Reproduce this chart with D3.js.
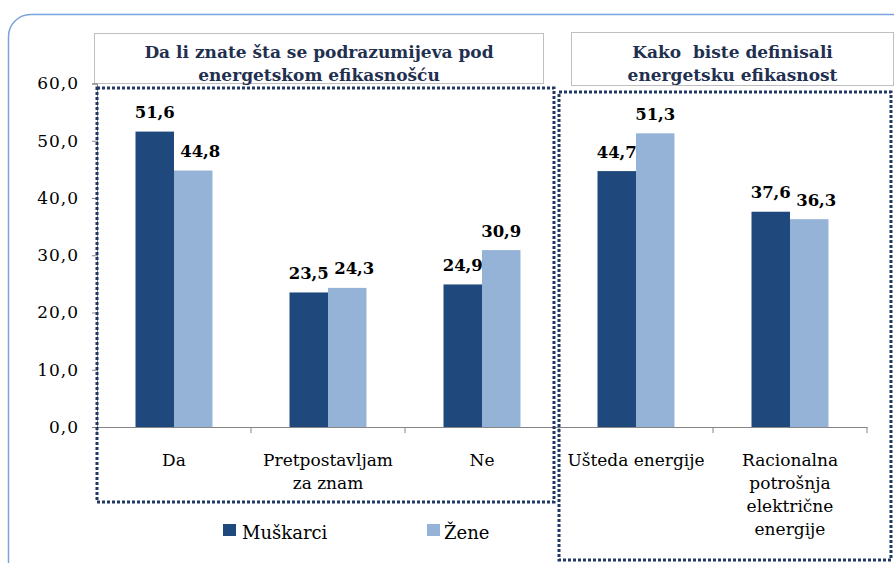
<!DOCTYPE html>
<html><head><meta charset="utf-8">
<script src="https://cdn.jsdelivr.net/npm/d3@7"></script>
<style>body{margin:0;background:#fff;}svg{display:block;}</style>
</head><body>
<svg id="chart" width="894" height="563"></svg>
<script>
const categories = ["Da", "Pretpostavljam\nza znam", "Ne", "Ušteda energije", "Racionalna\npotrošnja\nelektrične\nenergije"];
const series = ["Muškarci", "Žene"];
const muskarci = [51.6, 23.5, 24.9, 44.7, 37.6];
const zene = [44.8, 24.3, 30.9, 51.3, 36.3];
const yTicks = [0, 10, 20, 30, 40, 50, 60];
const titles = [["Da li znate šta se podrazumijeva pod", "energetskom efikasnošću"], ["Kako\u00a0 biste definisali", "energetsku efikasnost"]];

const colors = ["#1f497d", "#95b3d7"];
const svg = d3.select("#chart");
const serif = "'DejaVu Serif', serif";

// outer rounded frame
svg.append("rect").attr("x", 8.5).attr("y", 14.5).attr("width", 920).attr("height", 600)
  .attr("rx", 22).attr("fill", "none").attr("stroke", "#7aa3dc").attr("stroke-width", 1.5);

const x0 = 97, x1 = 867, yTop = 83.5, yBot = 427;
const x = d3.scaleBand().domain(categories).range([x0, x1]).paddingInner(0).paddingOuter(0);
const xs = d3.scaleBand().domain(series).range([0, x.bandwidth()]).paddingOuter(1).paddingInner(0);
const y = d3.scaleLinear().domain([0, 60]).range([yBot, yTop]);

// title boxes
const boxes = [{x: 94.5, y: 33.5, w: 449, h: 50}, {x: 571.5, y: 32.5, w: 322, h: 53}];
boxes.forEach((b, i) => {
  svg.append("rect").attr("x", b.x).attr("y", b.y).attr("width", b.w).attr("height", b.h)
    .attr("fill", "#fff").attr("stroke", "#bfbfbf").attr("stroke-width", 1);
  const t = svg.append("text").attr("text-anchor", "middle").attr("font-family", serif)
    .attr("font-weight", "bold").attr("font-size", 17).attr("fill", "#1f3050");
  titles[i].forEach((line, k) => {
    t.append("tspan").attr("x", b.x + b.w / 2).attr("y", 58 + k * 23).text(line);
  });
});

// y axis
const yAxis = svg.append("g").attr("transform", `translate(${x0},0)`)
  .call(d3.axisLeft(y).tickValues(yTicks).tickSize(5).tickPadding(13)
    .tickFormat(d => d3.format(".1f")(d).replace(".", ",")));
yAxis.select(".domain").attr("stroke", "#868686");
yAxis.selectAll(".tick line").attr("stroke", "#868686");
yAxis.selectAll("text").attr("font-family", serif).attr("font-size", 17)
  .attr("letter-spacing", 1).attr("fill", "#000");

// x axis
const xAxis = svg.append("g").attr("transform", `translate(0,${yBot})`)
  .call(d3.axisBottom(x).tickSize(0).tickFormat(""));
xAxis.select(".domain").attr("stroke", "#868686");
const bounds = [x0].concat(categories.map(c => x(c) + x.bandwidth()));
svg.append("g").selectAll("line").data(bounds).join("line")
  .attr("x1", d => d).attr("x2", d => d).attr("y1", yBot).attr("y2", yBot + 6)
  .attr("stroke", "#868686");

categories.forEach(c => {
  const lines = c.split("\n");
  const t = svg.append("text").attr("text-anchor", "middle").attr("font-family", serif)
    .attr("font-size", 17).attr("fill", "#000");
  lines.forEach((l, k) => {
    t.append("tspan").attr("x", x(c) + x.bandwidth() / 2).attr("y", 466 + k * 23).text(l);
  });
});

// bars
const vals = [muskarci, zene];
series.forEach((s, si) => {
  const g = svg.append("g");
  g.selectAll("rect").data(categories).join("rect")
    .attr("x", c => x(c) + xs(s)).attr("width", xs.bandwidth())
    .attr("y", (c, i) => y(vals[si][i])).attr("height", (c, i) => yBot - y(vals[si][i]))
    .attr("fill", colors[si]);
  g.selectAll("text").data(categories).join("text")
    .attr("x", (c, i) => {
      let cx = x(c) + xs(s) + xs.bandwidth() / 2;
      // light label nudged right when it sits close to / below the dark label
      if (si === 1 && zene[i] < muskarci[i] + 3) cx += 7;
      return cx;
    })
    .attr("y", (c, i) => y(vals[si][i]) - 13.5)
    .attr("text-anchor", "middle").attr("font-family", serif).attr("font-weight", "bold")
    .attr("font-size", 16.5).attr("fill", "#000")
    .text((c, i) => d3.format(".1f")(vals[si][i]).replace(".", ","));
});

// dotted group frames
const frames = [{x: 97, y: 88, w: 457, h: 414}, {x: 559, y: 92, w: 332, h: 468}];
frames.forEach(f => {
  svg.append("rect").attr("x", f.x).attr("y", f.y).attr("width", f.w).attr("height", f.h)
    .attr("fill", "none").attr("stroke", "#1f3864").attr("stroke-width", 3)
    .attr("stroke-dasharray", "3,2");
});

// legend
const leg = [{x: 223, tx: 242}, {x: 427, tx: 444}];
series.forEach((s, i) => {
  svg.append("rect").attr("x", leg[i].x).attr("y", 524).attr("width", 13).attr("height", 12).attr("fill", colors[i]);
  svg.append("text").attr("x", leg[i].tx).attr("y", 539).attr("font-family", serif)
    .attr("font-size", 18).attr("fill", "#000").text(s);
});
</script>
</body></html>
